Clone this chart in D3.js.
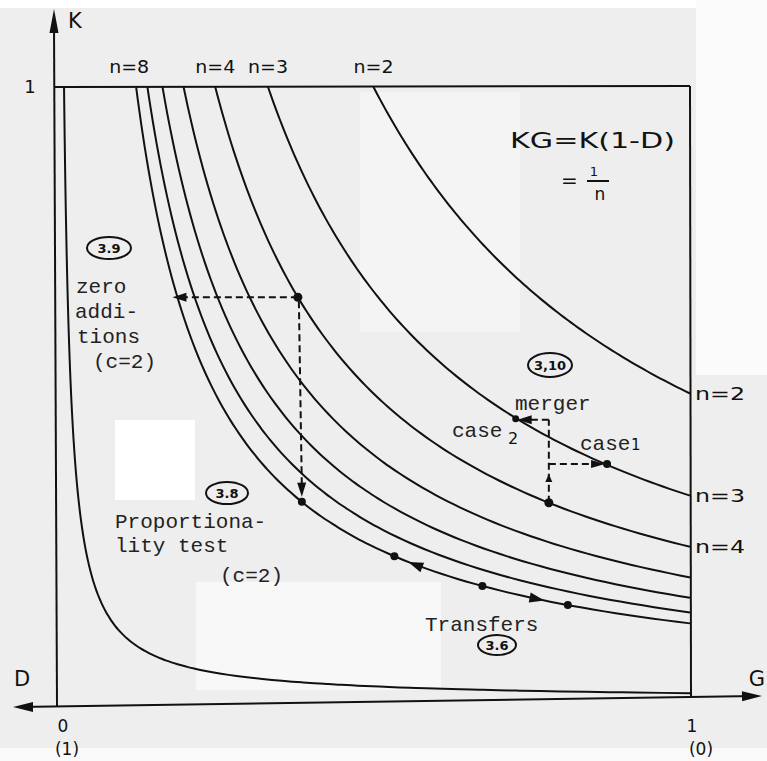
<!DOCTYPE html>
<html><head><meta charset="utf-8">
<script src="https://cdn.jsdelivr.net/npm/d3@7"></script>
<style>html,body{margin:0;padding:0;background:#eeeeee;}svg{display:block;}</style>
</head><body>
<svg id="chart" width="767" height="761"></svg>
<script>
// ---------------- data ----------------
const curveN = [2, 3, 4, 5, 6, 7, 8];          // KG = 1/n curves
const cornerCurveN = [90];                      // the curve hugging the corner
const topLabelN = [8, 4, 3, 2];
const topLabelText = ["n=8", "n=4", "n=3", "n=2"];
const rightLabelN = [2, 3, 4];
const rightLabelText = ["n=2", "n=3", "n=4"];
const gTickValues = [0, 1];
const gTickLabels = ["0", "1"];
const dTickLabels = ["(1)", "(0)"];
const kTickValues = [1];
const kTickLabels = ["1"];
// zero additions (c=2): K fixed, from n=4 to n=8
const zeroAddK = 0.657;
const zeroAddN = [4, 8];
// proportionality test (c=2): G fixed, from n=4 to n=8
const propN = [4, 8];
// merger: from n=4 at fixed G up to n=3 (case 1, case 2)
const mergerG = 0.777;
const mergerN = [4, 3];
const mergerCaseK = [0.385, 0.457];
const mergerMidK = 0.362;
// transfers along n=8
const transferN = 8;
const transferDotsG = [0.533, 0.672, 0.807];
const transferArrowG = [0.555, 0.77];
const transferArrowDir = [-1, 1];

// ---------------- setup ----------------
const svg = d3.select("#chart");
const x = d3.scaleLinear().domain([0, 1]).range([57, 690]);
const y = d3.scaleLinear().domain([0, 1]).range([700, 87]);
const ink = "#111";
const hand = "'DejaVu Sans', sans-serif";
const mono = "'Liberation Mono', monospace";

// scan-like background patches
const patches = [
  [0, 0, 767, 8, "#ffffff"], [696, 0, 71, 375, "#fbfbfb"], [115, 420, 80, 80, "#ffffff"],
  [196, 582, 245, 108, "#f8f8f8"], [360, 92, 160, 240, "#f4f4f4"], [0, 748, 767, 13, "#f9f9f9"]
];
svg.selectAll("rect.bg").data(patches).join("rect").attr("class", "bg")
  .attr("x", d => d[0]).attr("y", d => d[1]).attr("width", d => d[2]).attr("height", d => d[3])
  .attr("fill", d => d[4]);

// helpers
function hyperPoints(n) {
  const g0 = 1 / n;
  return d3.range(0, 1.0001, 0.01).map(t => {
    const g = g0 * Math.pow(1 / g0, t);
    return [g, 1 / (n * g)];
  });
}
const line = d3.line().x(d => x(d[0])).y(d => y(d[1])).curve(d3.curveMonotoneX);
function arrowHead(g, tipX, tipY, angle, len = 13, half = 4.5) {
  g.append("path")
    .attr("d", `M0,0 L${-len},${-half} L${-len},${half} Z`)
    .attr("transform", `translate(${tipX},${tipY}) rotate(${angle * 180 / Math.PI})`)
    .attr("fill", ink);
}
function dot(g, cx, cy, r = 4) {
  g.append("circle").attr("cx", cx).attr("cy", cy).attr("r", r).attr("fill", ink);
}

// ---------------- axes / frame ----------------
const axes = svg.append("g").attr("stroke", ink).attr("stroke-width", 2).attr("fill", "none");
const yBottomL = y(0) + 7, yBottomR = y(0) - 4;
axes.append("line").attr("x1", 18).attr("y1", yBottomL).attr("x2", 755).attr("y2", yBottomR);
axes.append("line").attr("x1", x(0)).attr("y1", yBottomL).attr("x2", x(0) - 3).attr("y2", 22);
axes.append("line").attr("x1", x(0) - 2).attr("y1", y(1)).attr("x2", x(1)).attr("y2", y(1) - 1);
axes.append("line").attr("x1", x(1)).attr("y1", y(1) - 1).attr("x2", x(1) + 1).attr("y2", yBottomR);
const arr = svg.append("g");
arrowHead(arr, 13, yBottomL, Math.PI, 20, 5);
arrowHead(arr, 762, yBottomR, -0.015, 20, 5);
arrowHead(arr, x(0) - 3, 9, -Math.PI / 2, 24, 4.5);

// axis texts
const txt = svg.append("g").attr("fill", ink).attr("font-family", hand);
txt.append("text").attr("x", 68).attr("y", 28).attr("font-size", 21).text("K");
txt.append("text").attr("x", 22).attr("y", 686).attr("font-size", 21).attr("text-anchor", "middle").text("D");
txt.append("text").attr("x", 757).attr("y", 686).attr("font-size", 21).attr("text-anchor", "middle").text("G");
txt.selectAll("text.gt").data(gTickValues).join("text").attr("class", "gt")
  .attr("x", d => x(d) + (d === 0 ? 6 : 2)).attr("y", 732).attr("font-size", 17)
  .attr("text-anchor", "middle").text((d, i) => gTickLabels[i]);
txt.selectAll("text.dt").data(gTickValues).join("text").attr("class", "dt")
  .attr("x", d => x(d) + (d === 0 ? 10 : 11)).attr("y", 755).attr("font-size", 17)
  .attr("text-anchor", "middle").text((d, i) => dTickLabels[i]);
txt.selectAll("text.kt").data(kTickValues).join("text").attr("class", "kt")
  .attr("x", 30).attr("y", d => y(d) + 6).attr("font-size", 18)
  .attr("text-anchor", "middle").text((d, i) => kTickLabels[i]);

// ---------------- curves ----------------
const curves = svg.append("g").attr("fill", "none").attr("stroke", ink).attr("stroke-width", 2);
curves.selectAll("path.c").data(curveN.concat(cornerCurveN)).join("path").attr("class", "c")
  .attr("d", n => line(hyperPoints(n)));

// curve labels
txt.selectAll("text.tl").data(topLabelN).join("text").attr("class", "tl")
  .attr("x", (n, i) => x(1 / n) - (n === 8 ? 7 : 0)).attr("y", 73)
  .attr("font-size", 17).attr("text-anchor", "middle").attr("textLength", 40)
  .attr("lengthAdjust", "spacingAndGlyphs").text((n, i) => topLabelText[i]);
txt.selectAll("text.rl").data(rightLabelN).join("text").attr("class", "rl")
  .attr("x", x(1) + 5).attr("y", n => y(1 / n) + 6)
  .attr("font-size", 17).attr("textLength", 50).attr("lengthAdjust", "spacingAndGlyphs")
  .text((n, i) => rightLabelText[i]);

// formula
txt.append("text").attr("x", 510).attr("y", 148).attr("font-size", 22)
  .attr("textLength", 165).attr("lengthAdjust", "spacingAndGlyphs").text("KG=K(1-D)");
txt.append("text").attr("x", 561).attr("y", 187).attr("font-size", 20).text("=");
txt.append("text").attr("x", 594).attr("y", 176).attr("font-size", 13).attr("text-anchor", "middle").text("1");
txt.append("text").attr("x", 600).attr("y", 200).attr("font-size", 17).attr("text-anchor", "middle").text("n");
svg.append("line").attr("x1", 587).attr("x2", 609).attr("y1", 181).attr("y2", 181)
  .attr("stroke", ink).attr("stroke-width", 2);

// ---------------- annotations ----------------
const ann = svg.append("g");
const dashed = g => g.attr("fill", "none").attr("stroke", ink).attr("stroke-width", 2).attr("stroke-dasharray", "7,4");

// zero additions
const zaG0 = 1 / (zeroAddN[0] * zeroAddK), zaG1 = 1 / (zeroAddN[1] * zeroAddK);
ann.append("line").call(dashed).attr("x1", x(zaG0)).attr("y1", y(zeroAddK)).attr("x2", x(zaG1) + 8).attr("y2", y(zeroAddK));
arrowHead(ann, x(zaG1) - 5, y(zeroAddK), Math.PI, 14, 4.5);
dot(ann, x(zaG0), y(zeroAddK), 4.5);

// proportionality test
const ptG = 1 / (propN[0] * zeroAddK);
const ptK1 = 1 / (propN[1] * ptG);
ann.append("line").call(dashed).attr("x1", x(ptG) + 1).attr("y1", y(zeroAddK) + 4).attr("x2", x(ptG) + 4).attr("y2", y(ptK1) - 10);
arrowHead(ann, x(ptG) + 4, y(ptK1) - 2, Math.PI / 2 - 0.015, 14, 4.5);
dot(ann, x(ptG) + 4, y(ptK1) + 3, 4);

// merger
const mK0 = 1 / (mergerN[0] * mergerG);
const case1G = 1 / (mergerN[1] * mergerCaseK[0]);
const case2G = 1 / (mergerN[1] * mergerCaseK[1]);
ann.append("line").call(dashed).attr("x1", x(mergerG)).attr("y1", y(mK0)).attr("x2", x(mergerG)).attr("y2", y(mergerCaseK[1]));
ann.append("line").call(dashed).attr("x1", x(mergerG)).attr("y1", y(mergerCaseK[0])).attr("x2", x(case1G) - 10).attr("y2", y(mergerCaseK[0]));
ann.append("line").call(dashed).attr("x1", x(mergerG)).attr("y1", y(mergerCaseK[1])).attr("x2", x(case2G) + 10).attr("y2", y(mergerCaseK[1]));
arrowHead(ann, x(case1G), y(mergerCaseK[0]), 0, 14, 4);
dot(ann, x(case1G) + 2, y(mergerCaseK[0]), 4);
arrowHead(ann, x(case2G) - 1, y(mergerCaseK[1]), Math.PI, 14, 4.5);
dot(ann, x(case2G) - 3, y(mergerCaseK[1]) - 1, 3.5);
arrowHead(ann, x(mergerG), y(mergerMidK) - 4, -Math.PI / 2, 8, 3.5);
dot(ann, x(mergerG), y(mK0), 4.5);

// transfers
transferDotsG.forEach(g => dot(ann, x(g), y(1 / (transferN * g)), 4));
transferArrowG.forEach((g, i) => {
  const d = transferArrowDir[i];
  const g2 = g + d * 0.01;
  const ang = Math.atan2(y(1 / (transferN * g2)) - y(1 / (transferN * g)), x(g2) - x(g));
  arrowHead(ann, x(g), y(1 / (transferN * g)), ang, 15, 5);
});

// circled equation numbers
const circ = [[109, 248, "3.9", 22, 11], [227, 493, "3.8", 21, 11], [550, 365, "3,10", 22, 12], [497, 645, "3.6", 19, 10]];
const cg = svg.append("g");
cg.selectAll("ellipse").data(circ).join("ellipse")
  .attr("cx", d => d[0]).attr("cy", d => d[1]).attr("rx", d => d[3]).attr("ry", d => d[4])
  .attr("fill", "none").attr("stroke", ink).attr("stroke-width", 2);
cg.selectAll("text").data(circ).join("text")
  .attr("x", d => d[0]).attr("y", d => d[1] + 5).attr("text-anchor", "middle")
  .attr("font-family", hand).attr("font-size", 13).attr("font-weight", "bold").attr("fill", ink)
  .text(d => d[2]);

// typed texts
const typed = [
  [76, 293, "zero"], [75, 318, "addi-"], [77, 343, "tions"], [93, 368, "(c=2)"],
  [115, 528, "Proportiona-"], [115, 552, "lity test"], [220, 582, "(c=2)"],
  [425, 631, "Transfers"], [515, 410, "merger"], [452, 437, "case"], [580, 450, "case"]
];
svg.append("g").selectAll("text").data(typed).join("text")
  .attr("x", d => d[0]).attr("y", d => d[1]).attr("font-family", mono).attr("font-size", 21)
  .attr("fill", "#222").text(d => d[2]);
txt.append("text").attr("x", 508).attr("y", 444).attr("font-size", 16).text("2");
txt.append("text").attr("x", 631).attr("y", 450).attr("font-size", 15).text("1");
</script>
</body></html>
